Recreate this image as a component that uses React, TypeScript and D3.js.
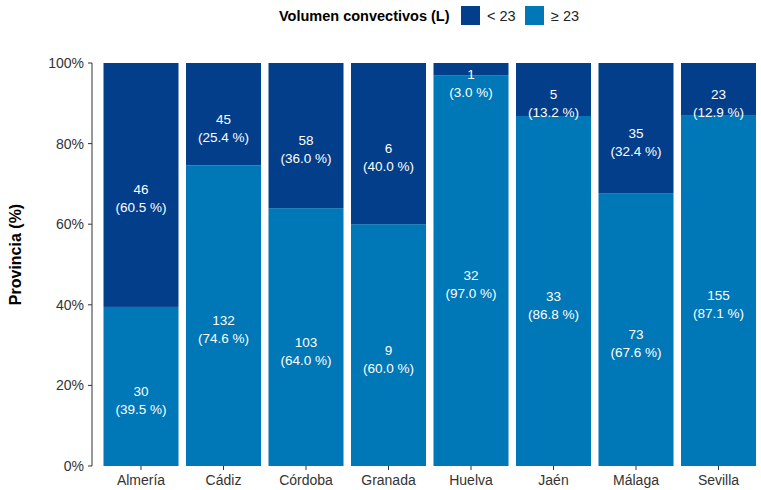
import React from "react";
import * as d3 from "d3";

const provinces = ["Almería", "Cádiz", "Córdoba", "Granada", "Huelva", "Jaén", "Málaga", "Sevilla"];
const below23 = [46, 45, 58, 6, 1, 5, 35, 23];
const above23 = [30, 132, 103, 9, 32, 33, 73, 155];
const seriesNames = ["< 23", "≥ 23"];
const seriesColors = ["#023e8a", "#0077b6"];
const yTicks = [0, 0.2, 0.4, 0.6, 0.8, 1];
const legendTitle = "Volumen convectivos (L)";
const yTitle = "Provincia (%)";

const W = 761;
const H = 490;
const font = "Liberation Sans, Arial, sans-serif";

export default function App() {
  const x = d3
    .scaleBand<string>()
    .domain(provinces)
    .range([99.75, 759.75])
    .paddingInner(0.0909)
    .paddingOuter(0.04545);
  const y = d3.scaleLinear().domain([0, 1]).range([466, 63]);
  const bw = x.bandwidth();

  const rows = provinces.map((p, i) => {
    const total = below23[i] + above23[i];
    return { p, lo: above23[i] / total, hi: below23[i] / total, nLo: above23[i], nHi: below23[i] };
  });

  const fmt = (v: number) => `(${(v * 100).toFixed(1)} %)`;

  const label = (cx: number, y0: number, y1: number, n: number, frac: number, key: string) => {
    const mid = (y0 + y1) / 2;
    return (
      <g key={key} fill="#ffffff" fontSize={13.5} fontFamily={font} textAnchor="middle">
        <text x={cx} y={mid + 9.5}>{n}</text>
        <text x={cx} y={mid + 27.5}>{fmt(frac)}</text>
      </g>
    );
  };

  return (
    <svg width={W} height={H} style={{ position: "absolute", left: 0, top: 0, background: "#fff" }}>
      {/* legend */}
      <g fontFamily={font} fontSize={14.5}>
        <text x={279} y={21} fontWeight="bold" fill="#000">{legendTitle}</text>
        <rect x={461} y={6} width={19} height={19} fill={seriesColors[0]} />
        <text x={487} y={21} fill="#222">{seriesNames[0]}</text>
        <rect x={525} y={6} width={19} height={19} fill={seriesColors[1]} />
        <text x={551} y={21} fill="#222">{seriesNames[1]}</text>
      </g>

      {/* bars */}
      {rows.map((r) => {
        const x0 = x(r.p)!;
        const yLoTop = y(r.lo);
        return (
          <g key={r.p}>
            <rect x={x0} y={yLoTop} width={bw} height={y(0) - yLoTop} fill={seriesColors[1]} />
            <rect x={x0} y={y(1)} width={bw} height={yLoTop - y(1)} fill={seriesColors[0]} />
          </g>
        );
      })}
      {rows.map((r) => {
        const cx = x(r.p)! + bw / 2;
        return (
          <g key={"l" + r.p}>
            {label(cx, y(1), y(r.lo), r.nHi, r.hi, "h")}
            {label(cx, y(r.lo), y(0), r.nLo, r.lo, "l")}
          </g>
        );
      })}

      {/* y axis */}
      <line x1={92} x2={92} y1={y(1)} y2={y(0)} stroke="#333" strokeWidth={1} />
      {yTicks.map((t) => (
        <g key={t}>
          <line x1={88} x2={92} y1={y(t)} y2={y(t)} stroke="#333" />
          <text x={84} y={y(t) + 5} textAnchor="end" fontFamily={font} fontSize={14} fill="#333">
            {`${Math.round(t * 100)}%`}
          </text>
        </g>
      ))}
      <text
        transform={`translate(21, ${(y(0) + y(1)) / 2 - 10}) rotate(-90)`}
        textAnchor="middle"
        fontFamily={font}
        fontSize={16}
        fontWeight="bold"
        fill="#000"
      >
        {yTitle}
      </text>

      {/* x axis */}
      {provinces.map((p) => {
        const cx = x(p)! + bw / 2;
        return (
          <g key={"x" + p}>
            <line x1={cx} x2={cx} y1={466} y2={470} stroke="#333" />
            <text x={cx} y={485} textAnchor="middle" fontFamily={font} fontSize={14} fill="#333">
              {p}
            </text>
          </g>
        );
      })}
    </svg>
  );
}
